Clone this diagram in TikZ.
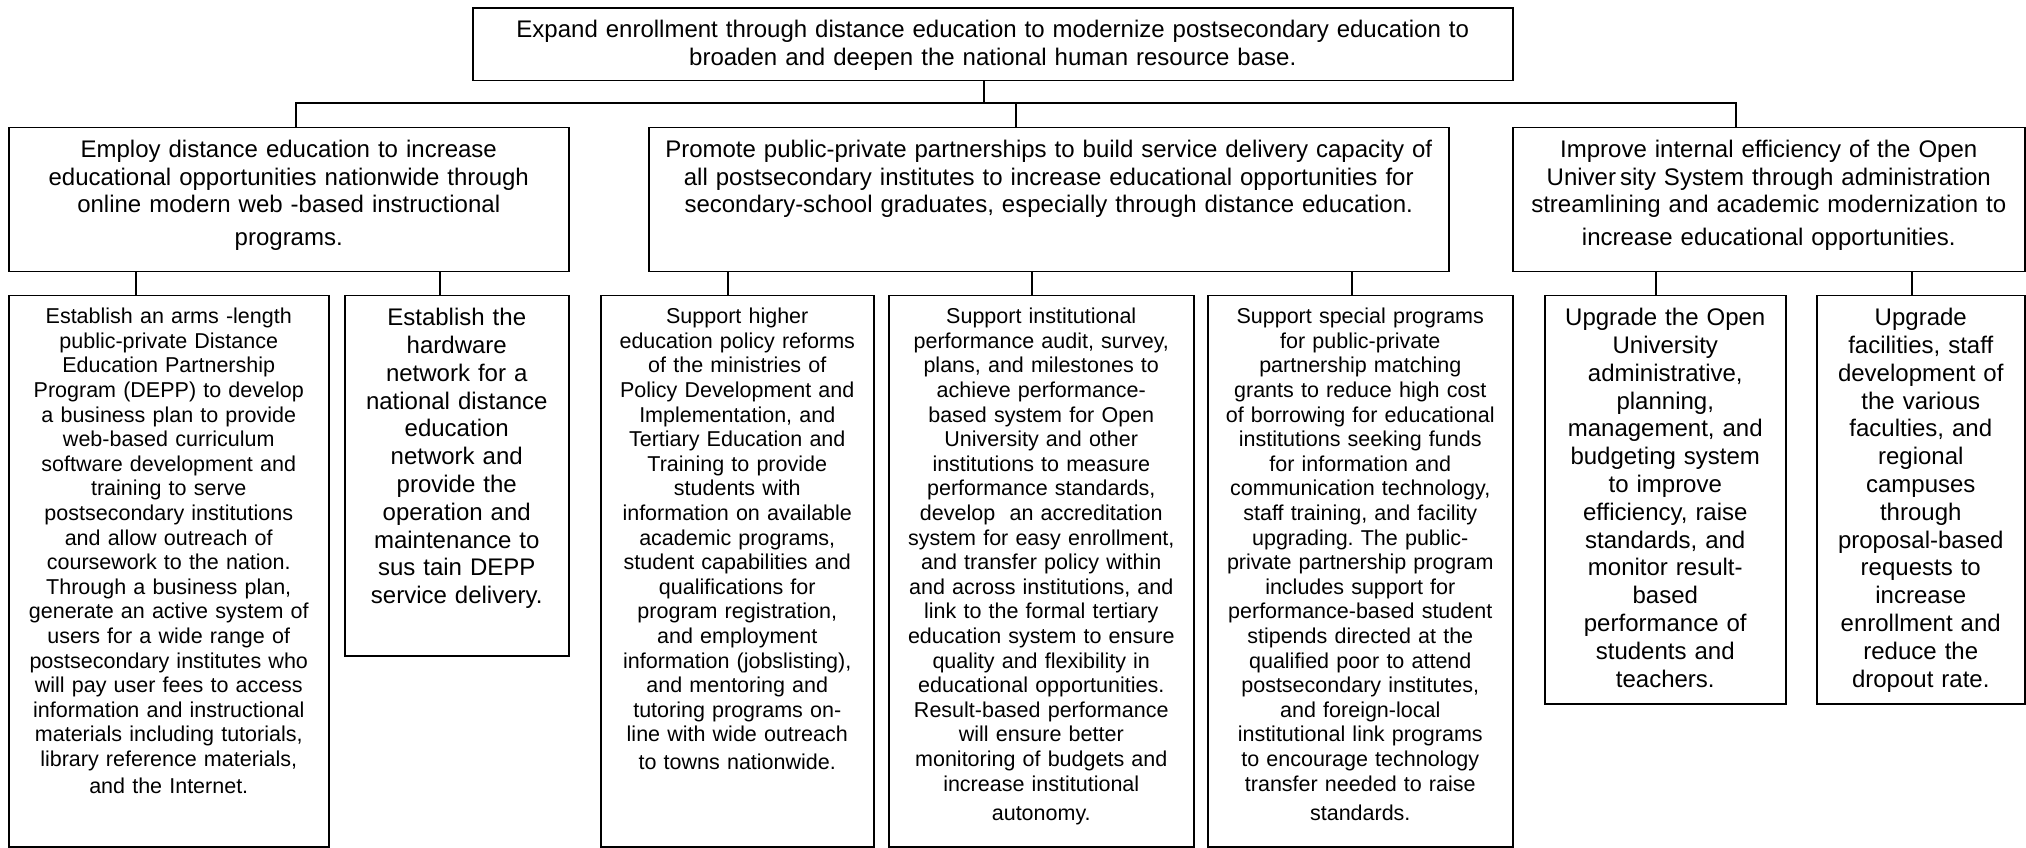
\documentclass[tikz,border=0pt]{standalone}
\usepackage{fontspec}
\setmainfont{Liberation Sans}
\usetikzlibrary{calc}
\frenchspacing

\begin{document}
\begin{tikzpicture}[x=1pt, y=1pt,
    box/.style={draw=black, line width=1.5pt, anchor=north west, align=center, inner sep=0pt},
    big/.style={font=\fontsize{24}{27.8}\selectfont},
    small/.style={font=\fontsize{21.5}{24.6}\selectfont},
    link/.style={draw=black, line width=1.5pt}]

    \fill[white] (0,0) rectangle (2026,-847);

    \node[box, big, text width=1040pt, text height=29pt, text depth=43.5pt] (goal) at (472,-7.5)
      {Expand enrollment through distance education to modernize postsecondary education to\\
       broaden and deepen the national human resource base.};

    \node[box, big, text width=560pt, text height=29.5pt, text depth=114.5pt] (obj1) at (8,-127)
      {Employ distance education to increase\\ educational opportunities nationwide through\\
       online modern web -based instructional\\[5pt] programs.};
    \node[box, big, text width=800pt, text height=29.5pt, text depth=114.5pt] (obj2) at (648,-127)
      {Promote public-private partnerships to build service delivery capacity of\\
       all postsecondary institutes to increase educational opportunities for\\
       secondary-school graduates, especially through distance education.};
    \node[box, big, text width=512pt, text height=29.5pt, text depth=114.5pt] (obj3) at (1512,-127)
      {Improve internal efficiency of the Open\\ Univer\,sity System through administration\\
       streamlining and academic modernization to\\[5pt] increase educational opportunities.};

    \node[box, small, text width=320pt, text height=28pt, text depth=523pt] (act1) at (8,-295)
      {Establish an arms -length\\ public-private Distance\\ Education Partnership\\
       Program (DEPP) to develop\\ a business plan to provide\\ web-based curriculum\\
       software development and\\ training to serve\\ postsecondary institutions\\
       and allow outreach of\\ coursework to the nation.\\ Through a business plan,\\
       generate an active system of\\ users for a wide range of\\ postsecondary institutes who\\
       will pay user fees to access\\ information and instructional\\
       materials including tutorials,\\ library reference materials,\\[2.5pt] and the Internet.};
    \node[box, big, text width=224pt, text height=30pt, text depth=330pt] (act2) at (344,-295)
      {Establish the\\ hardware\\ network for a\\ national distance\\ education\\ network and\\
       provide the\\ operation and\\ maintenance to\\ sus tain DEPP\\ service delivery.};
    \node[box, small, text width=273pt, text height=28pt, text depth=523pt] (act3) at (600,-295)
      {Support higher\\ education policy reforms\\ of the ministries of\\ Policy Development and\\
       Implementation, and\\ Tertiary Education and\\ Training to provide\\ students with\\
       information on available\\ academic programs,\\ student capabilities and\\
       qualifications for\\ program registration,\\ and employment\\
       information (jobslisting),\\ and mentoring and\\ tutoring programs on-\\
       line with wide outreach\\[2.5pt] to towns nationwide.};
    \node[box, small, text width=305pt, text height=28pt, text depth=523pt] (act4) at (888,-295)
      {Support institutional\\ performance audit, survey,\\ plans, and milestones to\\
       achieve performance-\\ based system for Open\\ University and other\\
       institutions to measure\\ performance standards,\\ develop~ an accreditation\\
       system for easy enrollment,\\ and transfer policy within\\ and across institutions, and\\
       link to the formal tertiary\\ education system to ensure\\ quality and flexibility in\\
       educational opportunities.\\ Result-based performance\\ will ensure better\\
       monitoring of budgets and\\ increase institutional\\[5pt] autonomy.};
    \node[box, small, text width=305pt, text height=28pt, text depth=523pt] (act5) at (1207,-295)
      {Support special programs\\ for public-private\\ partnership matching\\
       grants to reduce high cost\\ of borrowing for educational\\ institutions seeking funds\\
       for information and\\ communication technology,\\ staff training, and facility\\
       upgrading. The public-\\ private partnership program\\ includes support for\\
       performance-based student\\ stipends directed at the\\ qualified poor to attend\\
       postsecondary institutes,\\ and foreign-local\\ institutional link programs\\
       to encourage technology\\ transfer needed to raise\\[5pt] standards.};
    \node[box, big, text width=241pt, text height=30pt, text depth=378pt] (act6) at (1544,-295)
      {Upgrade the Open\\ University\\ administrative,\\ planning,\\ management, and\\
       budgeting system\\ to improve\\ efficiency, raise\\ standards, and\\ monitor result-\\
       based\\ performance of\\ students and\\ teachers.};
    \node[box, big, text width=208pt, text height=30pt, text depth=378pt] (act7) at (1816,-295)
      {Upgrade\\ facilities, staff\\ development of\\ the various\\ faculties, and\\ regional\\
       campuses\\ through\\ proposal-based\\ requests to\\ increase\\ enrollment and\\
       reduce the\\ dropout rate.};

    \coordinate (stem) at (984,-103);
    \coordinate (bus1) at (296,-103);
    \coordinate (bus2) at (1016,-103);
    \coordinate (bus3) at (1736,-103);

    \draw[link] (goal.south -| stem) -- (stem);
    \draw[link] (bus1 |- obj1.north) -- (bus1) -- (bus3) -- (bus3 |- obj3.north);
    \draw[link] (bus2) -- (bus2 |- obj2.north);

    \foreach \o/\a/\px in {obj1/act1/136, obj1/act2/440, obj2/act3/728, obj2/act4/1032,
                           obj2/act5/1352, obj3/act6/1656, obj3/act7/1912} {
      \draw[link] (\px,0 |- \o.south) -- (\px,0 |- \a.north);
    }

  \end{tikzpicture}
\end{document}
